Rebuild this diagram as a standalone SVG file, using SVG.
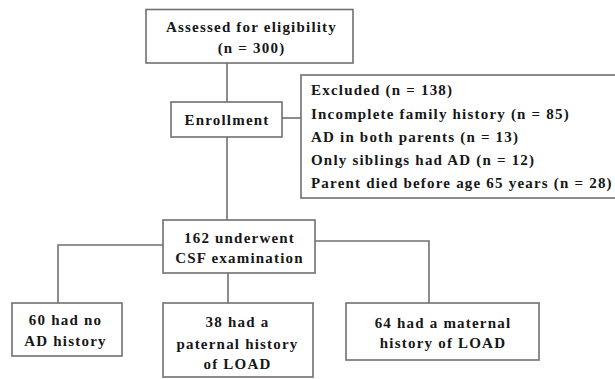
<svg xmlns="http://www.w3.org/2000/svg" width="615" height="379" viewBox="0 0 615 379">
<style>
.box{fill:#fff;stroke:#707070;stroke-width:1.6}
.ln{fill:none;stroke:#707070;stroke-width:1.6}
text{font-family:"Liberation Serif","Times New Roman",serif;font-weight:bold;font-size:15px;fill:#161616;letter-spacing:1.2px}
.c{text-anchor:middle}
</style>
<rect width="615" height="379" fill="#fff"/>
<g id="connectors">
<line class="ln" x1="227" y1="63" x2="227" y2="102"/>
<line class="ln" x1="282" y1="118" x2="301" y2="118"/>
<line class="ln" x1="227" y1="137" x2="227" y2="220"/>
<polyline class="ln" points="163,245 58,245 58,303"/>
<polyline class="ln" points="315,241 429,241 429,303"/>
<line class="ln" x1="228" y1="273" x2="228" y2="303"/>
</g>
<g id="assessed">
<rect class="box" x="146" y="9.5" width="207" height="53.5"/>
<text class="c" x="251.5" y="32">Assessed for eligibility</text>
<text class="c" x="251.5" y="53">(n = 300)</text>
</g>
<g id="enrollment">
<rect class="box" x="171" y="102" width="111" height="35"/>
<text class="c" x="227" y="125">Enrollment</text>
</g>
<g id="excluded">
<rect class="box" x="301" y="75" width="320" height="123"/>
<text x="311" y="95">Excluded (n = 138)</text>
<text x="311" y="119">Incomplete family history (n = 85)</text>
<text x="311" y="142">AD in both parents (n = 13)</text>
<text x="311" y="165">Only siblings had AD (n = 12)</text>
<text x="311" y="188">Parent died before age 65 years (n = 28)</text>
</g>
<g id="csf">
<rect class="box" x="163" y="220" width="152" height="53"/>
<text class="c" x="239.5" y="243">162 underwent</text>
<text class="c" x="239.5" y="263">CSF examination</text>
</g>
<g id="noad">
<rect class="box" x="12" y="303" width="110" height="53"/>
<text class="c" x="65.5" y="325">60 had no</text>
<text class="c" x="65.5" y="346">AD history</text>
</g>
<g id="paternal">
<rect class="box" x="163" y="303" width="150" height="74"/>
<text class="c" x="237.5" y="327">38 had a</text>
<text class="c" x="237.5" y="349">paternal history</text>
<text class="c" x="237.5" y="369">of LOAD</text>
</g>
<g id="maternal">
<rect class="box" x="346" y="303" width="193" height="57"/>
<text class="c" x="443" y="328">64 had a maternal</text>
<text class="c" x="443" y="348">history of LOAD</text>
</g>
</svg>
